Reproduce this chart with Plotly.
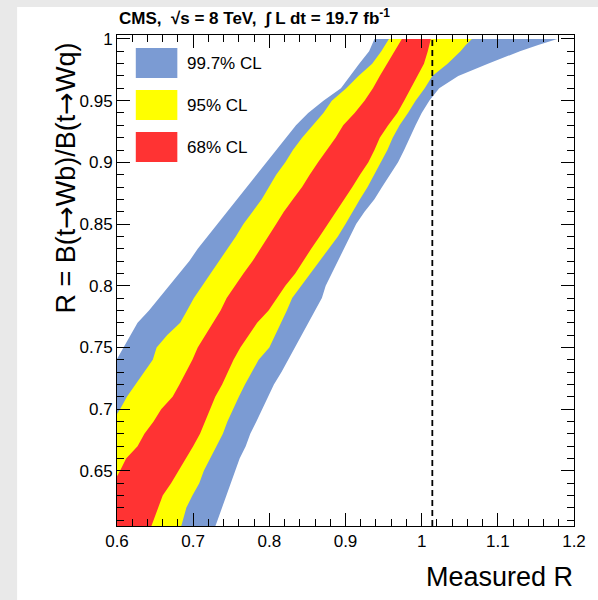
import plotly.graph_objects as go

# true R (vertical axis) grid
true_R = [1.0, 0.995, 0.99, 0.98, 0.97, 0.96, 0.95, 0.94, 0.93, 0.92, 0.91, 0.90,
          0.89, 0.88, 0.87, 0.86, 0.85, 0.84, 0.83, 0.82, 0.81, 0.80,
          0.79, 0.78, 0.77, 0.76, 0.75, 0.74, 0.73, 0.72, 0.71, 0.70,
          0.69, 0.68, 0.67, 0.66, 0.65, 0.64, 0.63, 0.62, 0.61, 0.60]

# measured-R interval edges for each CL band
blue_lo = [0.938, 0.935, 0.931, 0.918, 0.906, 0.894, 0.871, 0.851, 0.835, 0.822, 0.809, 0.796,
           0.783, 0.770, 0.757, 0.744, 0.731, 0.719, 0.706, 0.695, 0.682, 0.668,
           0.655, 0.642, 0.627, 0.618, 0.609, 0.600, 0.591, 0.581, 0.571, 0.561,
           0.552, 0.542, 0.532, 0.522, 0.513, 0.504, 0.494, 0.484, 0.474, 0.465]
blue_hi = [1.178, 1.153, 1.129, 1.087, 1.048, 1.023, 1.010, 1.000, 0.992, 0.984, 0.977, 0.969,
           0.958, 0.948, 0.938, 0.925, 0.914, 0.905, 0.897, 0.890, 0.882, 0.874,
           0.869, 0.860, 0.851, 0.843, 0.834, 0.825, 0.816, 0.806, 0.799, 0.791,
           0.783, 0.775, 0.769, 0.761, 0.756, 0.749, 0.743, 0.738, 0.732, 0.726]
yellow_lo = [0.957, 0.952, 0.947, 0.935, 0.917, 0.901, 0.882, 0.871, 0.857, 0.843, 0.831, 0.821,
             0.809, 0.799, 0.790, 0.778, 0.766, 0.756, 0.745, 0.735, 0.723, 0.712,
             0.701, 0.692, 0.683, 0.666, 0.652, 0.647, 0.636, 0.625, 0.613, 0.604,
             0.594, 0.583, 0.573, 0.562, 0.552, 0.543, 0.532, 0.522, 0.512, 0.501]
yellow_hi = [1.066, 1.058, 1.051, 1.034, 1.014, 1.004, 0.992, 0.982, 0.971, 0.962, 0.955, 0.947,
             0.938, 0.929, 0.919, 0.909, 0.900, 0.890, 0.878, 0.866, 0.855, 0.842,
             0.830, 0.823, 0.816, 0.808, 0.800, 0.786, 0.777, 0.768, 0.760, 0.752,
             0.745, 0.739, 0.731, 0.722, 0.714, 0.708, 0.699, 0.691, 0.687, 0.682]
red_lo = [0.974, 0.969, 0.964, 0.955, 0.945, 0.936, 0.925, 0.912, 0.897, 0.887, 0.875, 0.864,
          0.853, 0.843, 0.831, 0.819, 0.809, 0.799, 0.788, 0.778, 0.766, 0.755,
          0.744, 0.736, 0.726, 0.717, 0.706, 0.699, 0.691, 0.682, 0.673, 0.658,
          0.648, 0.636, 0.627, 0.612, 0.604, 0.595, 0.584, 0.575, 0.566, 0.556]
red_hi = [1.012, 1.010, 1.008, 1.003, 0.995, 0.986, 0.977, 0.968, 0.956, 0.945, 0.938, 0.930,
          0.919, 0.909, 0.899, 0.888, 0.877, 0.866, 0.855, 0.844, 0.834, 0.821,
          0.810, 0.799, 0.784, 0.773, 0.762, 0.753, 0.745, 0.738, 0.729, 0.723,
          0.716, 0.709, 0.700, 0.691, 0.681, 0.671, 0.660, 0.653, 0.648, 0.642]

measured_R = 1.014
band_labels = ["99.7% CL", "95% CL", "68% CL"]
band_colors = ["#7b9bd3", "#ffff00", "#ff3333"]

x_range = [0.6, 1.2]
y_range = [0.6053, 1.0032]

FONT = "Liberation Sans, Arial, Helvetica, sans-serif"
ARROW = "<span style='font-family:DejaVu Sans'>→</span>"

fig = go.Figure()
for lo, hi, col in [(blue_lo, blue_hi, band_colors[0]),
                    (yellow_lo, yellow_hi, band_colors[1]),
                    (red_lo, red_hi, band_colors[2])]:
    fig.add_trace(go.Scatter(
        x=lo + hi[::-1], y=true_R + true_R[::-1],
        fill="toself", fillcolor=col, mode="lines",
        line=dict(width=0, color=col), hoverinfo="skip", showlegend=False))

fig.add_trace(go.Scatter(
    x=[measured_R, measured_R], y=[y_range[0], max(true_R)],
    mode="lines", line=dict(color="black", width=1.8, dash="6px,4px"),
    showlegend=False, hoverinfo="skip"))

axis_common = dict(
    showgrid=False, zeroline=False, showline=True, linecolor="black", linewidth=1,
    mirror="ticks", ticks="inside", ticklen=13, tickwidth=1, tickcolor="black",
    tickfont=dict(family=FONT, size=17, color="black"),
)
fig.update_xaxes(range=x_range, dtick=0.1, tick0=0,
                 minor=dict(dtick=0.02, ticks="inside", ticklen=7, tickcolor="black", tickwidth=1),
                 **axis_common)
fig.update_yaxes(range=y_range, dtick=0.05, tick0=0,
                 minor=dict(dtick=0.01, ticks="inside", ticklen=7, tickcolor="black", tickwidth=1),
                 **axis_common)

W, H = 598, 600
L, R, T, B = 117, 19, 35, 74
pw, ph = W - L - R, H - T - B

def px(xp):
    return (xp - L) / pw

def py(yp):
    return (H - B - yp) / ph

shapes = [dict(type="rect", xref="paper", yref="paper", layer="below",
               x0=px(16), x1=px(610), y0=py(610), y1=py(7),
               fillcolor="white", line=dict(width=0))]
annotations = []
box_tops = [48, 90, 132]
for lab, col, top in zip(band_labels, band_colors, box_tops):
    shapes.append(dict(type="rect", xref="paper", yref="paper", layer="above",
                       x0=px(136), x1=px(178), y0=py(top + 30), y1=py(top),
                       fillcolor=col, line=dict(width=0)))
    annotations.append(dict(text=lab, xref="paper", yref="paper", x=px(186), y=py(top + 15),
                            xanchor="left", yanchor="middle", showarrow=False,
                            font=dict(family=FONT, size=17, color="black")))

annotations.append(dict(
    text="<b>CMS,  √s = 8 TeV,  ∫ L dt = 19.7 fb<sup>-1</sup></b>",
    xref="paper", yref="paper", x=px(117), y=py(17), xanchor="left", yanchor="middle",
    showarrow=False, font=dict(family=FONT, size=17, color="black")))
annotations.append(dict(
    text="R = B(t" + ARROW + "Wb)/B(t" + ARROW + "Wq)", xref="paper", yref="paper",
    x=px(65), y=py(178),
    xanchor="center", yanchor="middle", textangle=-90, showarrow=False,
    font=dict(family=FONT, size=27, color="black")))
annotations.append(dict(
    text="Measured R", xref="paper", yref="paper", x=px(580), y=py(577),
    xanchor="right", yanchor="middle", showarrow=False,
    font=dict(family=FONT, size=27, color="black")))

fig.update_layout(
    width=W, height=H, margin=dict(l=L, r=R, t=T, b=B),
    paper_bgcolor="#e9e9e9", plot_bgcolor="white",
    shapes=shapes, annotations=annotations, showlegend=False,
)

fig.write_html("out.html")
